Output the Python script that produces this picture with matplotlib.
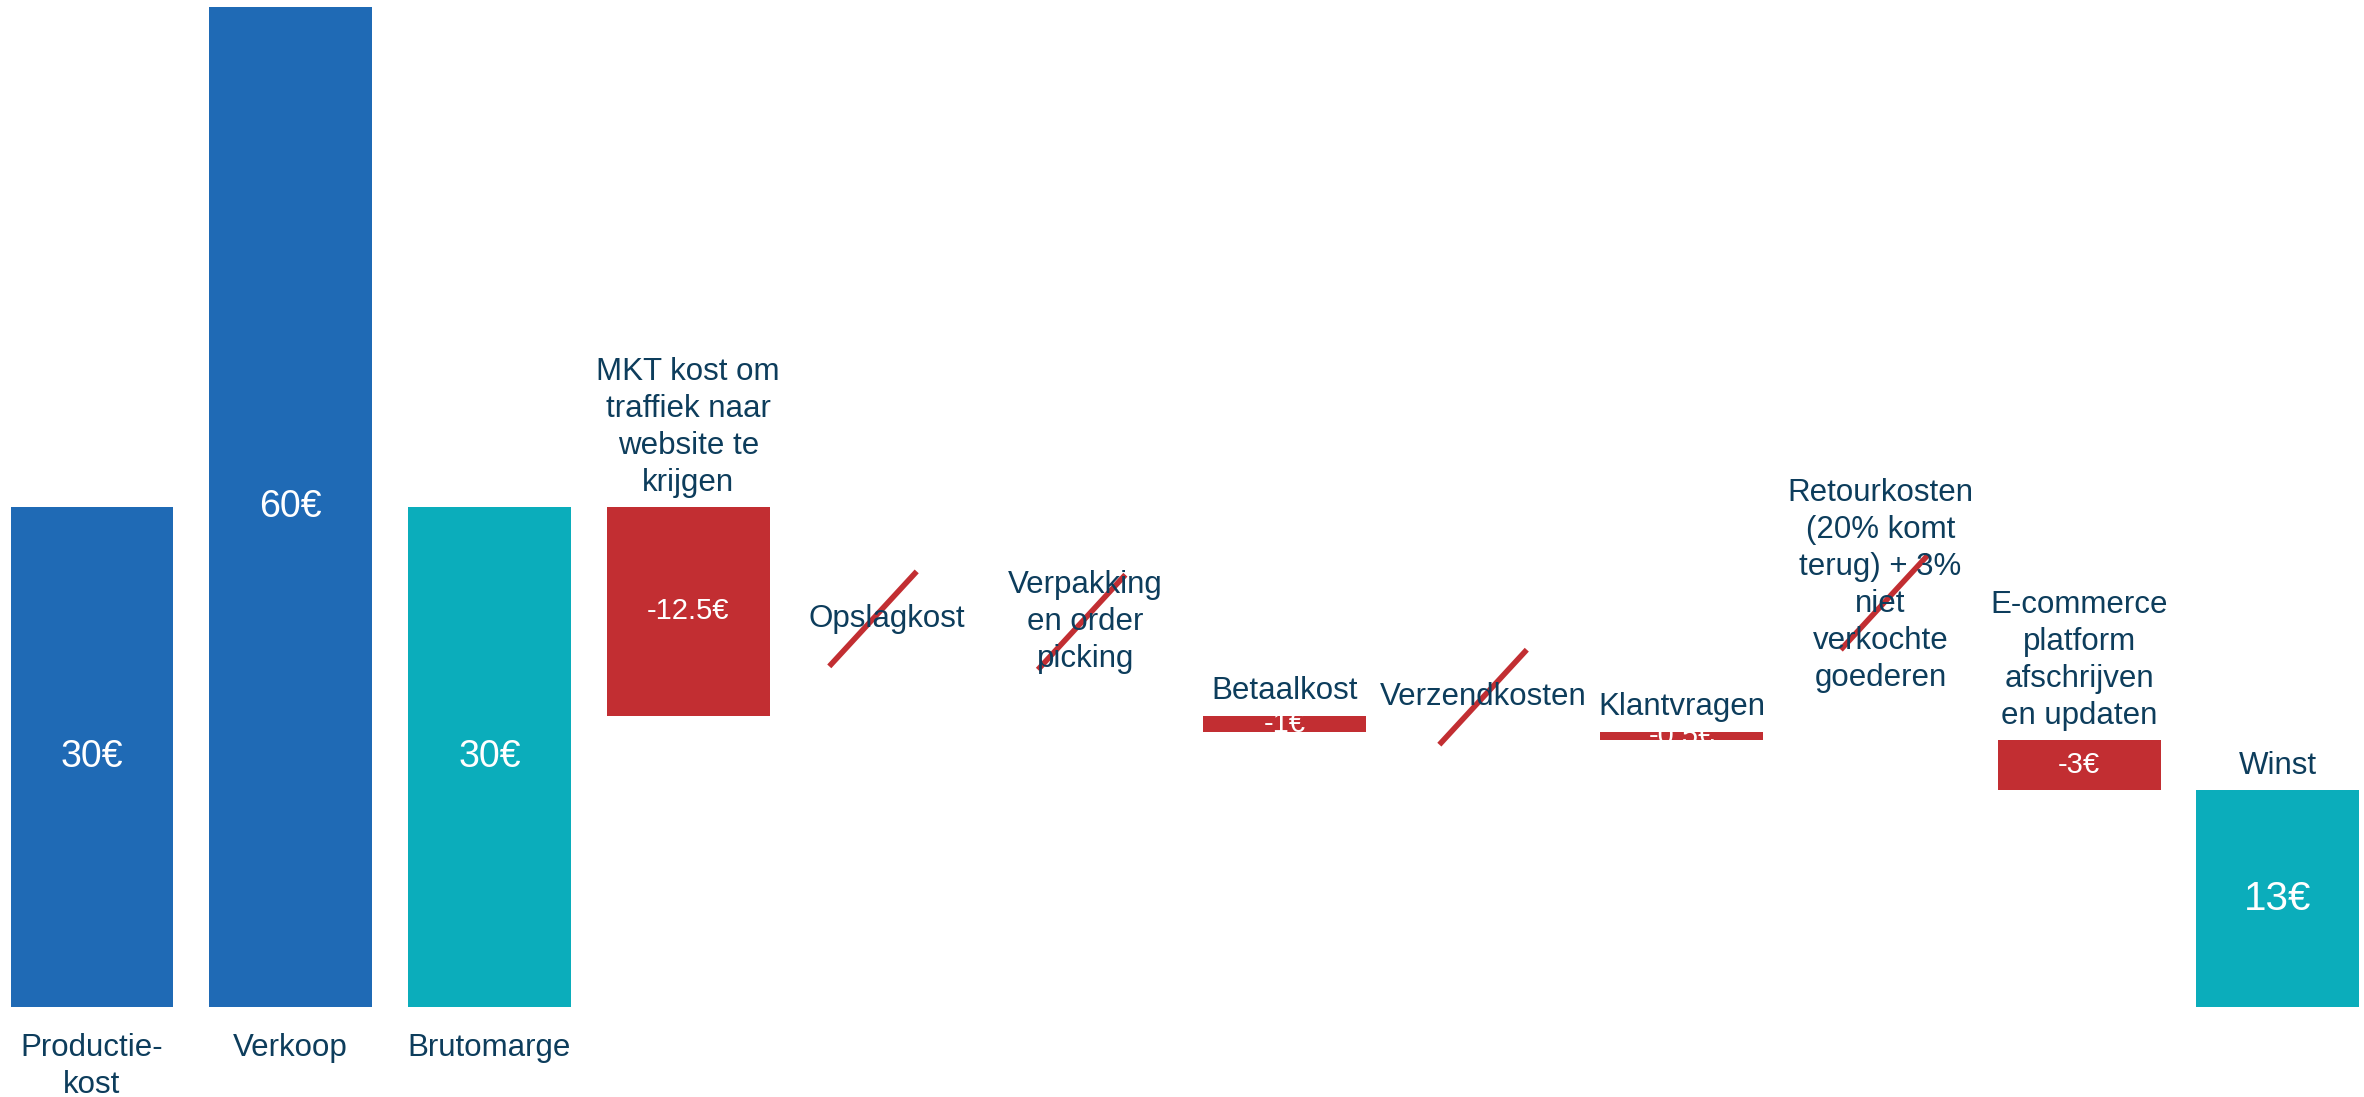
import matplotlib.pyplot as plt

plt.rcParams['font.family'] = ['Liberation Sans', 'DejaVu Sans']

# gegevens (bedragen in €)
categories = ['Productie-\nkost', 'Verkoop', 'Brutomarge',
              'MKT kost om\ntraffiek naar\nwebsite te\nkrijgen',
              'Opslagkost', 'Verpakking\nen order\npicking', 'Betaalkost',
              'Verzendkosten', 'Klantvragen',
              'Retourkosten\n(20% komt\nterug) + 3%\nniet\nverkochte\ngoederen',
              'E-commerce\nplatform\nafschrijven\nen updaten', 'Winst']
kinds = ['total', 'total', 'total', 'delta', 'skip', 'skip',
         'delta', 'skip', 'delta', 'skip', 'delta', 'total']
amounts = [30, 60, 30, -12.5, 0, 0, -1, 0, -0.5, 0, -3, 13]
value_labels = ['30€', '60€', '30€', '-12.5€', '', '', '-1€', '', '-0.5€', '', '-3€', '13€']

# opmaak
blue = '#1F6AB5'
teal = '#0BADBB'
red = '#C22E32'
navy = '#0D3D5C'
bar_colors = [blue, blue, teal, red, red, red, red, red, red, red, red, teal]
value_sizes = [27, 27, 27, 21, 21, 21, 21, 21, 21, 21, 21, 29]
skip_lift = {4: 5.8, 5: 5.6, 7: 2.1, 9: 9.3}   # tekst boven lopend niveau (data-eenheden)
strike_shift = {4: (-0.07, 0.0), 5: (-0.02, 0.0), 7: (0.0, 0.0), 9: (0.02, -1.0)}

fig = plt.figure(figsize=(23.64, 10.97), dpi=100)
ax = fig.add_axes([0, 0, 1, 1])
ax.set_xlim(-0.463, 11.433)
ax.set_ylim(-5.40, 60.45)
ax.axis('off')

level = 0
for i, (cat, kind, amt) in enumerate(zip(categories, kinds, amounts)):
    if kind == 'total':
        bottom, height = 0, amt
        level = amt
    elif kind == 'delta':
        bottom, height = level + amt, -amt
        level = level + amt
    else:
        # doorgestreepte post: geen balk
        yc = level + skip_lift[i]
        ax.text(i, yc, cat, ha='center', va='center', fontsize=22.5,
                color=navy, linespacing=1.3)
        dx, dy = strike_shift[i]
        ax.plot([i + dx - 0.22, i + dx + 0.22], [yc + dy - 2.85, yc + dy + 2.85],
                color=red, lw=4, solid_capstyle='butt')
        continue

    ax.bar(i, height, bottom=bottom, width=0.82, color=bar_colors[i])
    ax.text(i, bottom + height / 2, value_labels[i], ha='center', va='center',
            fontsize=value_sizes[i], color='white')

    if i < 3:
        ax.annotate(cat, (i, 0), xytext=(0, -19), textcoords='offset points',
                    ha='center', va='top', fontsize=22.5, color=navy,
                    linespacing=1.3)
    else:
        ax.annotate(cat, (i, bottom + height), xytext=(0, 7),
                    textcoords='offset points', ha='center', va='bottom',
                    fontsize=22.5, color=navy, linespacing=1.3)

fig.savefig('out.png', dpi=100)
